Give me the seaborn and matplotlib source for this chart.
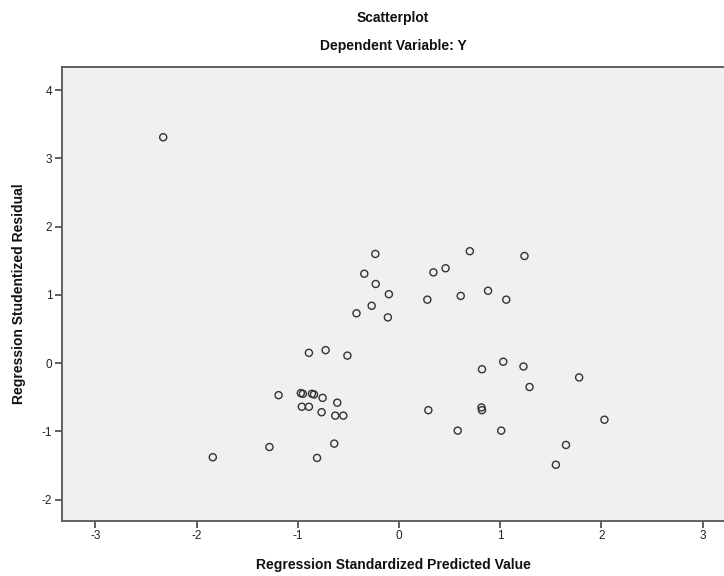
import matplotlib
matplotlib.use("Agg")
import matplotlib.pyplot as plt
import seaborn as sns
import pandas as pd

pred = [-2.33, -1.84, -1.28, -1.19, -0.97, -0.95, -0.86, -0.84, -0.755, -0.61,
        -0.96, -0.89, -0.765, -0.63, -0.55, -0.64, -0.81, -0.89, -0.725, -0.51,
        -0.234, -0.343, -0.23, -0.10, -0.27, -0.42, -0.11, 0.70, 0.46, 0.34,
        0.28, 0.61, 0.88, 1.24, 1.06, 0.29, 0.82, 0.815, 0.82, 0.58,
        1.03, 1.23, 1.29, 1.78, 2.03, 1.01, 1.65, 1.55]
resid = [3.31, -1.38, -1.23, -0.47, -0.44, -0.45, -0.45, -0.46, -0.51, -0.58,
         -0.64, -0.64, -0.72, -0.77, -0.77, -1.18, -1.39, 0.15, 0.19, 0.11,
         1.60, 1.31, 1.16, 1.01, 0.84, 0.73, 0.67, 1.64, 1.39, 1.33,
         0.93, 0.985, 1.06, 1.57, 0.93, -0.69, -0.09, -0.65, -0.69, -0.99,
         0.02, -0.05, -0.35, -0.21, -0.83, -0.99, -1.20, -1.49]
xticks = [-3, -2, -1, 0, 1, 2, 3]
yticks = [-2, -1, 0, 1, 2, 3, 4]

df = pd.DataFrame({"pred": pred, "resid": resid})

sns.set_style("white")
plt.rcParams['font.family'] = ['Liberation Sans', 'DejaVu Sans']

fig = plt.figure(figsize=(7.24, 5.76), dpi=100)
ax = fig.add_axes([62/724, 55.3/576, (736-62)/724, (520.7-67)/576])
ax.set_facecolor("#F0F0F0")

sns.scatterplot(data=df, x="pred", y="resid", ax=ax, marker="o", s=26,
                facecolor="none", edgecolor="#333333", linewidth=1.0)

ax.set_xlim(-3.33, 3.33)
ax.set_ylim(-2.31, 4.34)
ax.set_xticks(xticks)
ax.set_yticks(yticks)
ax.set_xticklabels([str(t) for t in xticks], fontsize=8.5, color="#222222")
ax.set_yticklabels([str(t) for t in yticks], fontsize=8.5, color="#222222")
ax.tick_params(axis="both", direction="out", length=5, width=1.2, color="#444444", pad=2,
               bottom=True, left=True)

for side in ["left", "bottom", "top", "right"]:
    ax.spines[side].set_color("#555555")
    ax.spines[side].set_linewidth(1.3)

ax.set_xlabel("Regression Standardized Predicted Value", fontsize=10, fontweight="bold",
              color="#111111")
ax.set_ylabel("Regression Studentized Residual", fontsize=10, fontweight="bold",
              color="#111111")
ax.xaxis.set_label_coords((393-62)/(736-62), -(558-520.7)/(520.7-67), transform=ax.transAxes)
ax.yaxis.set_label_coords(-(62-26)/(736-62), 0.5, transform=ax.transAxes)

fig.text(393/724, 1 - 18/576, "Scatterplot", ha="center", va="center",
         fontsize=10, fontweight="bold", color="#111111")
fig.text(393/724, 1 - 46/576, "Dependent Variable: Y", ha="center", va="center",
         fontsize=10, fontweight="bold", color="#111111")

fig.savefig("out.png", dpi=100)
